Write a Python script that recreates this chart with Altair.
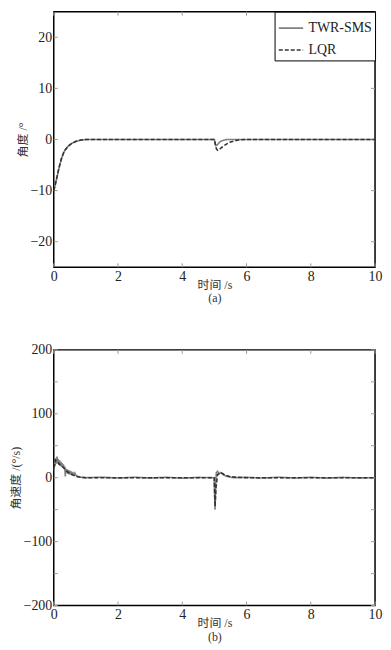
import altair as alt
import pandas as pd

SERIES = ["TWR-SMS", "LQR"]
COLORS = ["#808080", "#333333"]
DASHES = [[1, 0], [4, 2]]

# ---- Panel (a): angle (deg) ----
a_t_sms = [0, 0.05, 0.1, 0.15, 0.2, 0.25, 0.3, 0.35, 0.45, 0.55, 0.7, 0.85, 1.0, 2.0, 3.0, 4.0,
           5.0, 5.02, 5.05, 5.1, 5.15, 5.2, 5.3, 5.4, 6.0, 7.0, 8.0, 9.0, 10.0]
a_v_sms = [-10, -8.8, -7.4, -6.0, -4.7, -3.6, -2.7, -2.1, -1.3, -0.8, -0.35, -0.1, 0, 0, 0, 0,
           0, -0.7, -1.2, -1.0, -0.6, -0.35, -0.12, 0, 0, 0, 0, 0, 0]
a_t_lqr = [0, 0.05, 0.1, 0.15, 0.2, 0.25, 0.3, 0.35, 0.45, 0.55, 0.7, 0.85, 1.0, 2.0, 3.0, 4.0,
           5.0, 5.03, 5.06, 5.1, 5.14, 5.2, 5.3, 5.4, 5.5, 5.6, 5.7, 5.8, 6.0, 7.0, 8.0, 9.0, 10.0]
a_v_lqr = [-10, -8.7, -7.3, -5.9, -4.6, -3.5, -2.7, -2.1, -1.3, -0.8, -0.35, -0.1, 0, 0, 0, 0,
           0, -1.0, -1.8, -2.1, -2.0, -1.7, -1.2, -0.8, -0.5, -0.3, -0.15, -0.06, 0, 0, 0, 0, 0]

# ---- Panel (b): angular velocity (deg/s) ----
b_t_sms = [0.00, 0.02, 0.04, 0.06, 0.08, 0.10, 0.12, 0.14, 0.16, 0.18, 0.20, 0.22, 0.24, 0.26,
           0.28, 0.30, 0.32, 0.34, 0.36, 0.38, 0.40, 0.42, 0.44, 0.46, 0.48, 0.50, 0.52, 0.54,
           0.56, 0.58, 0.60, 0.62, 0.64, 0.66, 0.70, 0.75, 0.80, 0.90, 1.0, 1.5, 2.0, 2.5, 3.0,
           3.5, 4.0, 4.5, 4.99, 5.0, 5.02, 5.04, 5.06, 5.1, 5.15, 5.2, 5.3, 5.4, 5.5, 5.6, 6.0,
           6.5, 7.0, 7.5, 8.0, 8.5, 9.0, 9.5, 10.0]
b_v_sms = [10, 25, 18, 30, 22, 33, 24, 29, 20, 27, 19, 25, 17, 23,
           16, 21, 14, 18, 2, 14, 8, 13, 6, 12, 5, 11, 5, 10,
           4, 9, 4, 8, 3, 7, 3, 2, 1, 0.3, 0, 0.8, -0.6, 0.7, -0.5,
           0.6, -0.7, 0.5, 0, -20, -50, -10, 8, 10, 6, 8, 4, 2, 1, 0, 0.6,
           -0.6, 0.7, -0.5, 0.6, -0.7, 0.5, -0.4, 0]
b_t_lqr = [0, 0.05, 0.1, 0.2, 0.3, 0.35, 0.4, 0.5, 0.6, 0.7, 0.8, 1.0, 2.0, 3.0, 4.0, 5.0,
           5.02, 5.05, 5.1, 5.2, 5.3, 5.4, 5.5, 5.7, 6.0, 7.0, 8.0, 9.0, 10.0]
b_v_lqr = [15, 28, 25, 20, 16, 13, 10, 7, 4, 2, 1, 0, 0, 0, 0, 0,
           -45, -15, 5, 8, 5, 3, 1.5, 0.5, 0, 0, 0, 0, 0]

x_ticks = [0, 2, 4, 6, 8, 10]
a_y_ticks = [-20, -10, 0, 10, 20]
b_y_ticks = [-200, -150, -100, -50, 0, 50, 100, 150, 200]

W, H = 323, 257
FONT = "Liberation Serif, Noto Sans CJK SC"


def make_df(t1, v1, t2, v2):
    d1 = pd.DataFrame({"t": t1, "v": v1, "s": SERIES[0]})
    d2 = pd.DataFrame({"t": t2, "v": v2, "s": SERIES[1]})
    return pd.concat([d1, d2], ignore_index=True)


def panel(df, ydom, yticks, ytitle, xtitle, line_h):
    xs = alt.Scale(domain=[0, 10], nice=False, zero=False)
    ys = alt.Scale(domain=ydom, nice=False, zero=False)
    lines = alt.Chart(df).mark_line(strokeWidth=1.6, clip=True).encode(
        x=alt.X("t:Q", scale=xs,
                axis=alt.Axis(values=x_ticks, title=xtitle, ticks=False, domain=False,
                              grid=False, labelPadding=2, titlePadding=-4,
                              labelFlush=False, titleLineHeight=line_h)),
        y=alt.Y("v:Q", scale=ys,
                axis=alt.Axis(values=yticks, title=ytitle, ticks=False, domain=False,
                              grid=False, labelPadding=2, titlePadding=1)),
        color=alt.Color("s:N", sort=SERIES,
                        scale=alt.Scale(domain=SERIES, range=COLORS),
                        legend=alt.Legend(title=None, orient="top-right", offset=0,
                                          symbolType="stroke", symbolSize=600,
                                          symbolStrokeWidth=1.6, labelFontSize=14,
                                          labelFont=FONT, labelColor="#222222",
                                          strokeColor="black",
                                          fillColor="white", padding=3,
                                          labelLimit=200, rowPadding=1)),
        strokeDash=alt.StrokeDash("s:N", sort=SERIES,
                                  scale=alt.Scale(domain=SERIES, range=DASHES)),
        order=alt.Order("t:Q"),
    )
    xt = pd.DataFrame({"t": x_ticks})
    yt = pd.DataFrame({"v": yticks})
    tick_style = dict(color="#999999", strokeWidth=1)
    xb = alt.Chart(xt).mark_rule(**tick_style).encode(
        x=alt.X("t:Q", scale=xs), y=alt.value(H), y2=alt.value(H - 4))
    xtp = alt.Chart(xt).mark_rule(**tick_style).encode(
        x=alt.X("t:Q", scale=xs), y=alt.value(0), y2=alt.value(4))
    yl = alt.Chart(yt).mark_rule(**tick_style).encode(
        y=alt.Y("v:Q", scale=ys), x=alt.value(0), x2=alt.value(4))
    yr = alt.Chart(yt).mark_rule(**tick_style).encode(
        y=alt.Y("v:Q", scale=ys), x=alt.value(W), x2=alt.value(W - 4))
    return alt.layer(xb, xtp, yl, yr, lines).properties(width=W, height=H)


df_a = make_df(a_t_sms, a_v_sms, a_t_lqr, a_v_lqr)
df_b = make_df(b_t_sms, b_v_sms, b_t_lqr, b_v_lqr)

pa = panel(df_a, [-25, 25], a_y_ticks, "角度 /°", ["时间 /s", "(a)"], 13)
pb = panel(df_b, [-200, 200], b_y_ticks, "角速度 /(°/s)", ["时间 /s", "(b)"], 14)

chart = alt.vconcat(pa, pb, spacing=38).properties(
    padding={"top": 0, "left": 0, "right": 0, "bottom": 0},
    background="white",
).configure_view(
    stroke="black", strokeWidth=1.5
).configure_axis(
    labelFont=FONT, labelFontSize=14, labelColor="#222222",
    titleFont=FONT, titleFontSize=12, titleFontWeight="normal", titleColor="#333333",
)

chart.save("out.html", embed_options={"renderer": "svg", "actions": False})
